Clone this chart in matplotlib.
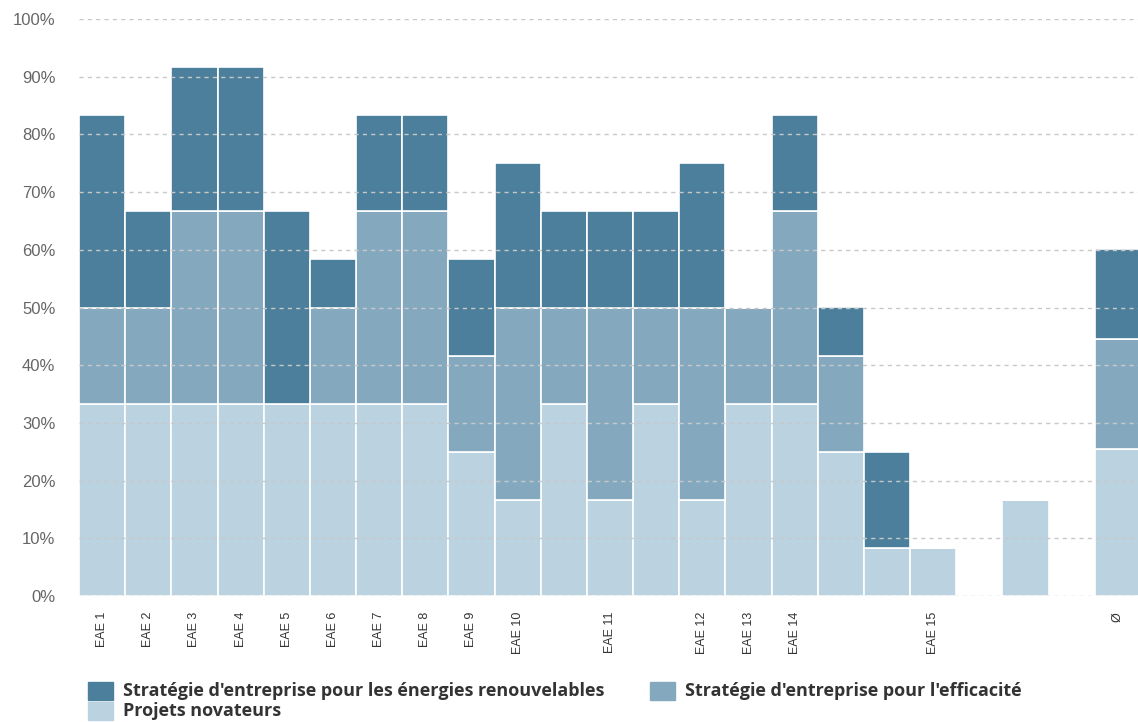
import matplotlib
matplotlib.use("Agg")
import matplotlib.pyplot as plt
from matplotlib.patches import Rectangle
from matplotlib.ticker import FuncFormatter

plt.rcParams['font.family'] = ['Liberation Sans', 'DejaVu Sans']

categories = ["EAE 1", "EAE 2", "EAE 3", "EAE 4", "EAE 5", "EAE 6", "EAE 7", "EAE 8",
              "EAE 9", "EAE 10", "", "EAE 11", "", "EAE 12", "EAE 13", "EAE 14", "", "",
              "EAE 15", "", "", "", "Ø"]

projets = [33.33, 33.33, 33.33, 33.33, 33.33, 33.33, 33.33, 33.33, 25.0, 16.67, 33.33, 16.67,
           33.33, 16.67, 33.33, 33.33, 25.0, 8.33, 8.33, 0.0, 16.67, 0.0, 25.5]
efficacite = [16.67, 16.67, 33.33, 33.33, 0.0, 16.67, 33.33, 33.33, 16.67, 33.33, 16.67, 33.33,
              16.67, 33.33, 16.67, 33.33, 16.67, 0.0, 0.0, 0.0, 0.0, 0.0, 19.0]
renouvelables = [33.33, 16.67, 25.0, 25.0, 33.33, 8.33, 16.67, 16.67, 16.67, 25.0, 16.67, 16.67,
                 16.67, 25.0, 0.0, 16.67, 8.33, 16.67, 0.0, 0.0, 0.0, 0.0, 15.6]

series_names = ["Stratégie d'entreprise pour les énergies renouvelables",
                "Stratégie d'entreprise pour l'efficacité",
                "Projets novateurs"]
c_dark = "#4b7f9c"
c_mid = "#84a9bf"
c_light = "#bbd3e0"

fig = plt.figure(figsize=(11.38, 7.22), dpi=100)
ax = fig.add_axes([79 / 1138, (722 - 596) / 722, (1141 - 79) / 1138, 577 / 722])

x = list(range(len(categories)))
bottom2 = projets
bottom3 = [a + b for a, b in zip(projets, efficacite)]
ax.bar(x, projets, width=1.0, color=c_light, edgecolor="white", linewidth=1.2, zorder=2)
ax.bar(x, efficacite, width=1.0, bottom=bottom2, color=c_mid, edgecolor="white", linewidth=1.2, zorder=2)
ax.bar(x, renouvelables, width=1.0, bottom=bottom3, color=c_dark, edgecolor="white", linewidth=1.2, zorder=2)

ax.set_xlim(-0.5, len(categories) - 0.5)
ax.set_ylim(0, 100)
ax.set_yticks(range(0, 101, 10))
ax.yaxis.set_major_formatter(FuncFormatter(lambda v, p: f"{int(v)}%"))
ax.yaxis.grid(True, color="#c8c8c8", linestyle=(0, (3, 3)), linewidth=1.0, zorder=3)
ax.set_axisbelow(False)
for s in ax.spines.values():
    s.set_visible(False)
ax.tick_params(axis="y", length=0, pad=17, labelsize=12, labelcolor="#666666")
ax.set_xticks(x)
ax.set_xticklabels(categories, rotation=90, fontsize=9, color="#333333", va="top")
ax.tick_params(axis="x", length=0, pad=11.5)

# legend
leg_items = [(88 / 1138, 691, c_dark, series_names[0]),
             (650 / 1138, 691, c_mid, series_names[1]),
             (88 / 1138, 711, c_light, series_names[2])]
for lx, py, col, name in leg_items:
    fy = (722 - py) / 722
    fig.patches.append(Rectangle((lx, fy - 9 / 722), 25 / 1138, 18 / 722,
                                 transform=fig.transFigure, color=col, figure=fig))
    fig.text(lx + 35 / 1138, fy, name, fontsize=13, fontweight="bold",
             family=["Open Sans", "DejaVu Sans"],
             color="#333333", va="center", ha="left")

fig.savefig("out.png", dpi=100)
